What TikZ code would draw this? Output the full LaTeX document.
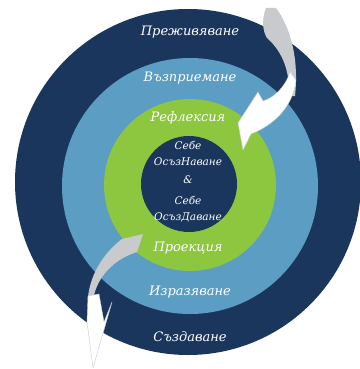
\documentclass[tikz,border=0pt]{standalone}
\usepackage{fontspec}
\setmainfont{DejaVu Serif}
\definecolor{navy}{HTML}{1B365D}
\definecolor{skyblue}{HTML}{5B9DC3}
\definecolor{limegreen}{HTML}{8DC63F}
\definecolor{arrowgray}{HTML}{C9CACD}
\begin{document}
\begin{tikzpicture}[x=1pt,y=-1pt,
  lbl/.style={text=white,font=\itshape\fontsize{13}{15}\selectfont,inner sep=0pt},
  lblsm/.style={text=white,font=\itshape\fontsize{10.5}{12}\selectfont,inner sep=0pt},
  backside/.style={fill=arrowgray},
  frontside/.style={fill=white,draw=arrowgray,line width=0.4pt,line join=round}]
\useasboundingbox (0,0) rectangle (359,369);
\fill[white] (0,0) rectangle (359,369);
% rings
\fill[navy] (188,182) circle[radius=173pt];
\fill[skyblue] (190,186) circle[radius=128pt];
\fill[limegreen] (190,185) circle[radius=86pt];
\fill[navy] (189,184) circle[radius=48pt];
% labels
\node[lbl] (t1) at (190,32) {Преживяване};
\node[lbl] (t2) at (190,78) {Възприемане};
\node[lbl] (t3) at (188,118) {Рефлексия};
\node[lblsm] (c1) at (188,145) {Себе};
\node[lblsm] (c2) at (188,162) {ОсъзНаване};
\node[lblsm] (c3) at (188,180) {\&};
\node[lblsm] (c4) at (188,200) {Себе};
\node[lblsm] (c5) at (188,217) {ОсъзДаване};
\node[lbl] (t4) at (188,248) {Проекция};
\node[lbl] (t5) at (190,292) {Изразяване};
\node[lbl] (t6) at (190,337) {Създаване};
% top-right curved arrow
\path[backside] (266,8) -- (276,8) .. controls (291,28) and (299,60) .. (295,96)
  -- (289,96) .. controls (290,72) and (283,52) .. (267,38)
  .. controls (262,30) and (262,18) .. (266,8) -- cycle;
\path[frontside] (290,72) .. controls (285,88) and (273,98) .. (263,101)
  -- (258,92) -- (238,123) -- (243,150) -- (251,134)
  .. controls (272,126) and (293,108) .. (296,80) -- cycle;
% bottom-left curved arrow
\path[backside] (122,239) -- (143,234) -- (137,252)
  .. controls (118,258) and (100,272) .. (94,295) -- (88,297)
  .. controls (90,278) and (100,256) .. (122,239) -- cycle;
\path[frontside] (88,296) -- (87,322) -- (93,368) -- (112,302) -- (104,322)
  -- (99,294) -- cycle;
\end{tikzpicture}
\end{document}
